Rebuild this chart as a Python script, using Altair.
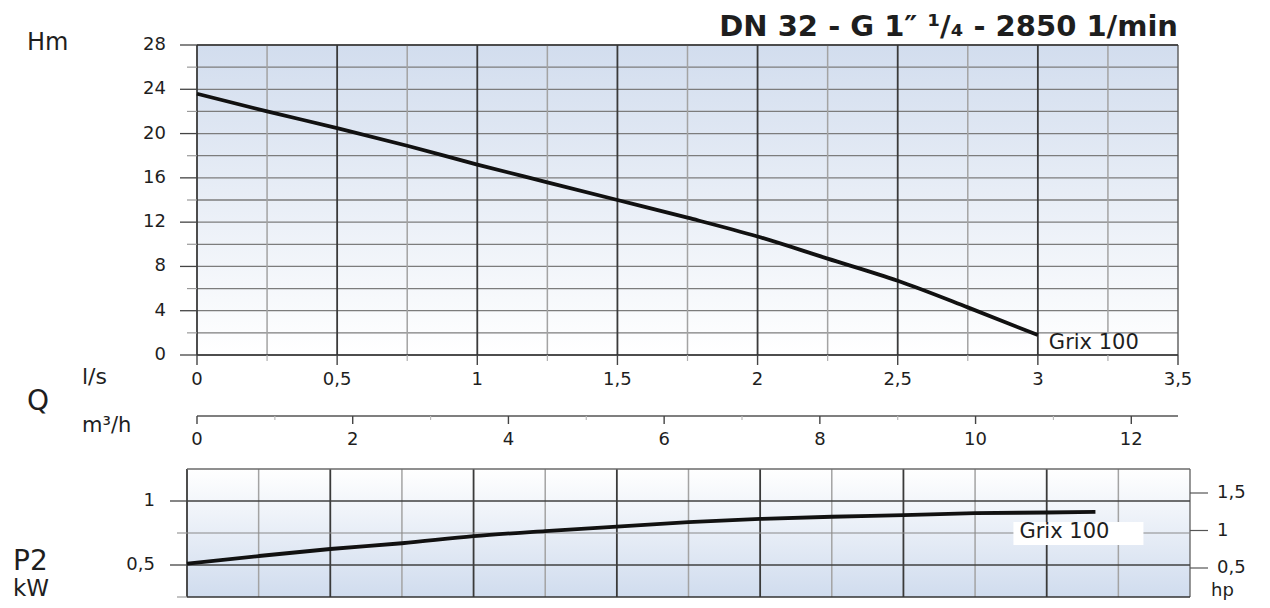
import altair as alt
import pandas as pd

# ---------------- data ----------------
q_head = [0, 0.25, 0.5, 0.75, 1.0, 1.25, 1.5, 1.75, 2.0, 2.25, 2.5, 2.75, 3.0]
head_m = [23.6, 22.0, 20.5, 18.9, 17.2, 15.6, 14.0, 12.4, 10.7, 8.7, 6.7, 4.3, 1.8]

q_power = [0, 0.25, 0.5, 0.75, 1.0, 1.25, 1.5, 1.75, 2.0, 2.25, 2.5, 2.75, 3.0, 3.17]
power_kw = [0.51, 0.57, 0.625, 0.67, 0.725, 0.765, 0.80, 0.835, 0.86, 0.877, 0.89, 0.905, 0.91, 0.915]

ls_major = [0, 0.5, 1, 1.5, 2, 2.5, 3]
ls_minor = [0.25, 0.75, 1.25, 1.75, 2.25, 2.75, 3.25]
ls_ticks = [0, 0.5, 1, 1.5, 2, 2.5, 3, 3.5]
ls_labels = ["0", "0,5", "1", "1,5", "2", "2,5", "3", "3,5"]

h_grid = [0, 2, 4, 6, 8, 10, 12, 14, 16, 18, 20, 22, 24, 26, 28]
h_ticks = [0, 4, 8, 12, 16, 20, 24, 28]
h_labels = ["0", "4", "8", "12", "16", "20", "24", "28"]
h_minor = [2, 6, 10, 14, 18, 22, 26]

m3h_ticks = [0, 2, 4, 6, 8, 10, 12]
m3h_labels = ["0", "2", "4", "6", "8", "10", "12"]
m3h_minor = [1, 3, 5, 7, 9, 11]

kw_major = [0.5, 1.0]
kw_labels = ["0,5", "1"]
kw_minor = [0.25, 0.75]
hp_ticks = [0.5, 1.0, 1.5]
hp_labels = ["0,5", "1", "1,5"]

series_name = "Grix 100"
title_text = "DN 32 - G 1\u2033 \u00b9/\u2084 - 2850 1/min"

# ---------------- scales (pixel ranges of each panel) ----------------
Q_TOP = ([0, 3.5], [189, 1170])
H_TOP = ([0, 28], [347, 37])
Q_M3H = ([0, 12.6], [189, 1170])
Q_BOT = ([0, 3.5], [179, 1182])
P_KW = ([0.25, 1.25], [589, 461])
P_HP = ([0.5, 1.5], [560, 485])

FONT = "DejaVu Sans"
INK = "#1e1e1e"
TICK_FS = 18


def S(sc):
    return alt.Scale(domain=sc[0], range=sc[1], nice=False, zero=False)


def X(field, sc):
    return alt.X(field, type="quantitative", scale=S(sc), axis=None)


def Y(field, sc):
    return alt.Y(field, type="quantitative", scale=S(sc), axis=None)


def vrules(values, xs, ys, y0, y1, color, width):
    df = pd.DataFrame({"v": values, "a": y0, "b": y1})
    return alt.Chart(df).mark_rule(color=color, strokeWidth=width).encode(
        x=X("v", xs), y=Y("a", ys), y2=alt.Y2("b"))


def hrules(values, xs, ys, x0, x1, color, width):
    df = pd.DataFrame({"v": values, "a": x0, "b": x1})
    return alt.Chart(df).mark_rule(color=color, strokeWidth=width).encode(
        y=Y("v", ys), x=X("a", xs), x2=alt.X2("b"))


def left_ticks(values, xs, ys, x0, length, color, width):
    df = pd.DataFrame({"v": values, "a": x0})
    return alt.Chart(df).mark_rule(color=color, strokeWidth=width, x2Offset=-length).encode(
        y=Y("v", ys), x=X("a", xs), x2=alt.X2("a"))


def down_ticks(values, xs, ys, y0, length, color, width):
    df = pd.DataFrame({"v": values, "a": y0})
    return alt.Chart(df).mark_rule(color=color, strokeWidth=width, y2Offset=length).encode(
        x=X("v", xs), y=Y("a", ys), y2=alt.Y2("a"))


def static_text(text, px, py, size, align="left", weight="normal", baseline="alphabetic"):
    return alt.Chart(pd.DataFrame({"t": [text]})).mark_text(
        align=align, baseline=baseline, fontSize=size, font=FONT, fontWeight=weight, color=INK
    ).encode(x=alt.value(px), y=alt.value(py), text="t:N")


def grad(c0, c1):
    return alt.LinearGradient(
        gradient="linear",
        stops=[alt.GradientStop(color=c0, offset=0), alt.GradientStop(color=c1, offset=1)],
        x1=0, x2=0, y1=0, y2=1)


layers = []

# ================= top panel: head =================
bg_top = pd.DataFrame({"q0": [0], "q1": [3.5], "h0": [0], "h1": [28]})
layers.append(alt.Chart(bg_top).mark_rect(fill=grad("#d2ddee", "#ffffff")).encode(
    x=X("q0", Q_TOP), x2=alt.X2("q1"), y=Y("h0", H_TOP), y2=alt.Y2("h1")))
layers.append(hrules(h_grid, Q_TOP, H_TOP, 0, 3.5, "#7c7c7c", 1.3))
layers.append(vrules(ls_minor, Q_TOP, H_TOP, 0, 28, "#a3a3a3", 1.5))
layers.append(vrules(ls_major, Q_TOP, H_TOP, 0, 28, "#3a3a3a", 1.8))
layers.append(vrules([3.5], Q_TOP, H_TOP, 0, 28, "#5a5a5a", 1.4))
layers.append(hrules([0, 28], Q_TOP, H_TOP, 0, 3.5, "#333333", 1.6))
layers.append(left_ticks(h_ticks, Q_TOP, H_TOP, 0, 17, "#444444", 1.3))
layers.append(left_ticks(h_minor, Q_TOP, H_TOP, 0, 10, "#9a9a9a", 1.2))
layers.append(down_ticks(ls_ticks, Q_TOP, H_TOP, 0, 10, "#444444", 1.4))
layers.append(down_ticks(ls_minor, Q_TOP, H_TOP, 0, 6, "#b0b0b0", 1.2))

h_lab = pd.DataFrame({"v": h_ticks, "a": 0, "t": h_labels})
layers.append(alt.Chart(h_lab).mark_text(
    align="right", baseline="middle", dx=-31, fontSize=TICK_FS, font=FONT, color=INK).encode(
    x=X("a", Q_TOP), y=Y("v", H_TOP), text="t:N"))
ls_lab = pd.DataFrame({"v": ls_ticks, "a": 0, "t": ls_labels})
layers.append(alt.Chart(ls_lab).mark_text(
    align="center", baseline="middle", dy=25, fontSize=TICK_FS, font=FONT, color=INK).encode(
    x=X("v", Q_TOP), y=Y("a", H_TOP), text="t:N"))

curve_top = pd.DataFrame({"q": q_head, "h": head_m})
layers.append(alt.Chart(curve_top).mark_line(
    color="#111111", strokeWidth=3.8, interpolate="monotone").encode(
    x=X("q", Q_TOP), y=Y("h", H_TOP)))

end_top = pd.DataFrame({"q": [q_head[-1]], "h": [head_m[-1]], "t": [series_name]})
layers.append(alt.Chart(end_top).mark_rect(
    fill="white", xOffset=3, x2Offset=138, yOffset=-1, y2Offset=19).encode(
    x=X("q", Q_TOP), x2=alt.X2("q"), y=Y("h", H_TOP), y2=alt.Y2("h")))
layers.append(alt.Chart(end_top).mark_text(
    align="left", baseline="middle", dx=11, dy=8, fontSize=21, font=FONT, color=INK).encode(
    x=X("q", Q_TOP), y=Y("h", H_TOP), text="t:N"))

# ================= m3/h axis =================
m_line = pd.DataFrame({"a": [0], "b": [12.6]})
layers.append(alt.Chart(m_line).mark_rule(color="#555555", strokeWidth=1.3).encode(
    x=X("a", Q_M3H), x2=alt.X2("b"), y=alt.value(408)))
layers.append(alt.Chart(pd.DataFrame({"v": m3h_ticks})).mark_rule(
    color="#444444", strokeWidth=1.4).encode(x=X("v", Q_M3H), y=alt.value(408), y2=alt.value(416)))
layers.append(alt.Chart(pd.DataFrame({"v": m3h_minor})).mark_rule(
    color="#bbbbbb", strokeWidth=1.2).encode(x=X("v", Q_M3H), y=alt.value(408), y2=alt.value(412)))
layers.append(alt.Chart(pd.DataFrame({"v": m3h_ticks, "t": m3h_labels})).mark_text(
    align="center", baseline="middle", fontSize=TICK_FS, font=FONT, color=INK).encode(
    x=X("v", Q_M3H), y=alt.value(432), text="t:N"))

# ================= bottom panel: power =================
bg_bot = pd.DataFrame({"q0": [0], "q1": [3.5], "p0": [0.25], "p1": [1.25]})
layers.append(alt.Chart(bg_bot).mark_rect(fill=grad("#ffffff", "#d0dcee")).encode(
    x=X("q0", Q_BOT), x2=alt.X2("q1"), y=Y("p0", P_KW), y2=alt.Y2("p1")))
layers.append(vrules(ls_minor, Q_BOT, P_KW, 0.25, 1.25, "#a3a3a3", 1.5))
layers.append(vrules(ls_major, Q_BOT, P_KW, 0.25, 1.25, "#3a3a3a", 1.8))
layers.append(vrules([3.5], Q_BOT, P_KW, 0.25, 1.25, "#6a6a6a", 1.4))
layers.append(hrules([0.75], Q_BOT, P_KW, 0, 3.5, "#8a8a8a", 1.2))
layers.append(hrules(kw_major, Q_BOT, P_KW, 0, 3.5, "#404040", 1.5))
layers.append(hrules([1.25], Q_BOT, P_KW, 0, 3.5, "#6a6a6a", 1.3))
layers.append(hrules([0.25], Q_BOT, P_KW, 0, 3.5, "#333333", 1.6))
layers.append(left_ticks(kw_major, Q_BOT, P_KW, 0, 17, "#444444", 1.3))
layers.append(left_ticks(kw_minor, Q_BOT, P_KW, 0, 10, "#9a9a9a", 1.2))

hp_tk = pd.DataFrame({"v": hp_ticks, "a": 3.5, "t": hp_labels})
layers.append(alt.Chart(hp_tk).mark_rule(color="#555555", strokeWidth=1.2, x2Offset=18).encode(
    y=Y("v", P_HP), x=X("a", Q_BOT), x2=alt.X2("a")))
layers.append(alt.Chart(hp_tk).mark_text(
    align="left", baseline="middle", dx=27, fontSize=TICK_FS, font=FONT, color=INK).encode(
    x=X("a", Q_BOT), y=Y("v", P_HP), text="t:N"))
kw_lab = pd.DataFrame({"v": kw_major, "a": 0, "t": kw_labels})
layers.append(alt.Chart(kw_lab).mark_text(
    align="right", baseline="middle", dx=-32, fontSize=TICK_FS, font=FONT, color=INK).encode(
    x=X("a", Q_BOT), y=Y("v", P_KW), text="t:N"))

curve_bot = pd.DataFrame({"q": q_power, "p": power_kw})
layers.append(alt.Chart(curve_bot).mark_line(
    color="#111111", strokeWidth=3.8, interpolate="monotone").encode(
    x=X("q", Q_BOT), y=Y("p", P_KW)))

end_bot = pd.DataFrame({"q": [q_power[-1]], "p": [power_kw[-1]], "t": [series_name]})
layers.append(alt.Chart(end_bot).mark_rect(
    fill="white", xOffset=-82, x2Offset=48, yOffset=10, y2Offset=33).encode(
    x=X("q", Q_BOT), x2=alt.X2("q"), y=Y("p", P_KW), y2=alt.Y2("p")))
layers.append(alt.Chart(end_bot).mark_text(
    align="left", baseline="middle", dx=-76, dy=20, fontSize=21, font=FONT, color=INK).encode(
    x=X("q", Q_BOT), y=Y("p", P_KW), text="t:N"))

# ================= titles / unit labels =================
layers.append(static_text(title_text, 1170, 28, 29, align="right", weight="bold"))
layers.append(static_text("Hm", 19, 42, 24))
layers.append(static_text("l/s", 74, 376, 22))
layers.append(static_text("Q", 19, 402, 28))
layers.append(static_text("m\u00b3/h", 74, 424, 21))
layers.append(static_text("P2", 5, 562, 28))
layers.append(static_text("kW", 5, 588, 23))
layers.append(static_text("hp", 1203, 588, 18))

chart = alt.layer(*layers).resolve_scale(x="independent", y="independent").properties(
    width=1254, height=592, autosize=alt.AutoSizeParams(type="none"), padding=0
).configure_view(strokeWidth=0)

chart.save("out.html", embed_options={"renderer": "svg", "actions": False})
